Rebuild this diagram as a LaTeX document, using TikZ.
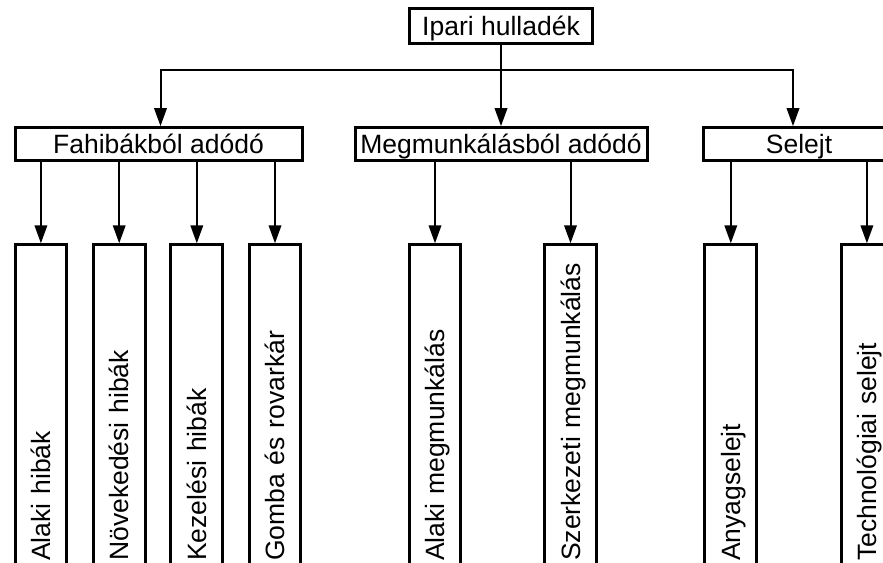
\documentclass[tikz,border=0pt]{standalone}
\usepackage{fontspec}
\setmainfont{Liberation Sans}
\usetikzlibrary{arrows.meta}
\begin{document}
\begin{tikzpicture}[x=1pt,y=-1pt,
  lbl/.style={font=\fontsize{26.5}{30}\selectfont, text height=19pt, text depth=0pt},
  head/.style={lbl, draw, line width=3pt, inner sep=0pt},
  leaf/.style={lbl, draw, line width=3pt, rotate=90, anchor=east,
    minimum width=330pt, minimum height=51.7pt,
    inner xsep=14pt, inner ysep=0pt, text width=302pt, align=left},
  wire/.style={line width=2pt},
  arr/.style={wire, -{Triangle[length=18pt,width=12.5pt]}}]
\useasboundingbox (0,0) rectangle (883,562);
\fill[white] (0,0) rectangle (883,562);
\clip (0,0) rectangle (883,562);

% root and the three main groups
\node[head, minimum width=183.3pt, minimum height=34.7pt] (top) at (501,26.3) {Ipari hulladék};
\node[head, minimum width=287pt, minimum height=33.3pt] (fah) at (158.5,144.3) {Fahibákból adódó};
\node[head, minimum width=292pt, minimum height=33.3pt] (meg) at (501,144.3) {Megmunkálásból adódó};
\node[head, minimum width=190.6pt, minimum height=33.3pt] (sel) at (799,144.3) {Selejt};

% leaf categories, text running upwards
\node[leaf] (a1) at (40.9,243.3) {Alaki hibák};
\node[leaf] (a2) at (119.2,243.3) {Növekedési hibák};
\node[leaf] (a3) at (196.8,243.3) {Kezelési hibák};
\node[leaf] (a4) at (275,243.3) {Gomba és rovarkár};
\node[leaf] (b1) at (435,243.3) {Alaki megmunkálás};
\node[leaf] (b2) at (570.5,243.3) {Szerkezeti megmunkálás};
\node[leaf] (c1) at (730.8,243.3) {Anyagselejt};
\node[leaf] (c2) at (866.9,243.3) {Technológiai selejt};

% distribution bus below the root
\coordinate (busL) at (160.5,70);
\coordinate (busR) at (793,70);
\draw[arr] (top.south) -- (meg.north);
\draw[arr] (busR) -- (busL) -- (busL |- fah.north);
\draw[arr] (busL) -- (busR) -- (busR |- sel.north);

% group to leaf arrows
\foreach \c in {a1,a2,a3,a4}
  \draw[arr] (fah.south -| \c.east) -- (\c.east);
\foreach \c in {b1,b2}
  \draw[arr] (meg.south -| \c.east) -- (\c.east);
\foreach \c in {c1,c2}
  \draw[arr] (sel.south -| \c.east) -- (\c.east);
\end{tikzpicture}
\end{document}
